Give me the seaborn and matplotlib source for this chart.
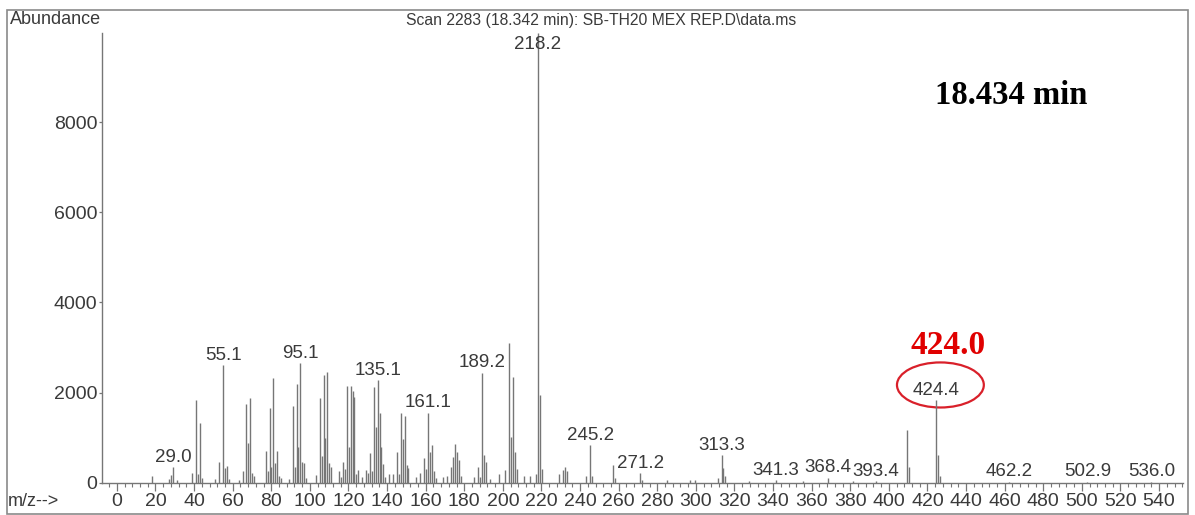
# -*- coding: utf-8 -*-

"""
    质谱图：Scan 2283 (18.342 min) 复现
"""
import matplotlib
matplotlib.use('Agg')
import matplotlib.pyplot as plt
from matplotlib.patches import Ellipse, Rectangle
from matplotlib.ticker import MultipleLocator
import pandas as pd
import seaborn as sns

# 峰位置 (m/z) 与丰度
mz = [18.0, 27.0, 28.0, 29.0, 31.0, 39.1, 41.1, 42.1, 43.1, 44.1, 51.1, 53.1,
      55.1, 56.1, 57.1, 58.1, 63.1, 65.1, 67.1, 68.1, 69.1, 70.1, 71.1, 77.1,
      78.1, 79.1, 80.1, 81.1, 82.1, 83.1, 84.1, 85.1, 89.1, 91.1, 92.1, 93.1,
      94.1, 95.1, 96.1, 97.1, 98.1, 103.1, 105.1, 106.1, 107.1, 108.1, 109.1,
      110.1, 111.1, 115.1, 116.1, 117.1, 118.1, 119.1, 120.1, 121.1, 122.1,
      123.1, 124.1, 125.1, 127.1, 129.1, 130.1, 131.1, 132.1, 133.1, 134.1,
      135.1, 136.1, 137.1, 138.1, 139.1, 141.1, 143.1, 145.1, 146.1, 147.1,
      148.1, 149.1, 150.1, 151.1, 155.1, 157.1, 159.1, 160.1, 161.1, 162.1,
      163.1, 164.1, 165.1, 169.1, 171.1, 173.1, 174.1, 175.1, 176.1, 177.1,
      178.1, 185.1, 187.1, 188.1, 189.2, 190.2, 191.2, 193.1, 198.1, 201.2,
      203.2, 204.2, 205.2, 206.2, 207.2, 211.1, 214.1, 217.2, 218.2, 219.2,
      220.2, 229.1, 231.2, 232.2, 233.2, 243.2, 245.2, 246.2, 257.2, 258.2,
      271.2, 272.2, 285.2, 297.2, 299.3, 311.3, 313.3, 314.3, 315.3, 327.3,
      341.3, 355.3, 368.4, 381.3, 393.4, 409.4, 410.4, 424.4, 425.4, 426.4,
      462.2, 502.9, 536.0]
abundance = [150, 90, 180, 340, 60, 220, 1835, 200, 1330, 100, 80, 466,
             2612, 320, 380, 80, 60, 250, 1750, 875, 1880, 220, 150, 710,
             250, 1650, 350, 2317, 430, 700, 150, 100, 80, 1700, 350, 2190,
             800, 2650, 460, 430, 100, 180, 1870, 600, 2390, 1000, 2465,
             440, 350, 250, 120, 450, 300, 2140, 800, 2150, 2040,
             1900, 200, 280, 120, 280, 220, 650, 250, 2130, 1240,
             2280, 1540, 790, 420, 120, 190, 190, 690, 200, 1555,
             960, 1480, 400, 330, 120, 210, 540, 300, 1555, 690,
             840, 250, 100, 120, 150, 355, 580, 850, 690, 500,
             150, 130, 355, 130, 2440, 615, 460, 80, 200, 280,
             3110, 1020, 2350, 690, 300, 150, 150, 200, 9980, 1950,
             300, 190, 280, 340, 250, 150, 837, 150, 393, 100,
             208, 60, 50, 70, 60, 100, 615, 330, 150, 40,
             60, 30, 110, 30, 40, 1170, 350, 1835, 615, 150,
             20, 20, 20]

# 标注的峰
labeled_mz = [29.0, 55.1, 95.1, 135.1, 161.1, 189.2, 218.2, 245.2, 271.2,
              313.3, 341.3, 368.4, 393.4, 424.4, 462.2, 502.9, 536.0]

scan_title = 'Scan 2283 (18.342 min): SB-TH20 MEX REP.D\\data.ms'
rt_text = '18.434 min'
mark_text = '424.0'
mark_mz = 424.4

text_color = '#3a3a3a'
line_color = '#767676'


def collect_data():
    """
        数据整理
    """
    return pd.DataFrame({'mz': mz, 'abundance': abundance})


def draw(data_df):
    """
        结果展示
    """
    sns.set_style('white')
    plt.rcParams['font.family'] = ['Liberation Sans', 'DejaVu Sans']

    fig = plt.figure(figsize=(11.95, 5.15), dpi=100)
    ax = fig.add_axes([102 / 1195, 1 - 482.7 / 515,
                       (1183 - 102) / 1195, (482.7 - 33) / 515])

    ax.vlines(data_df['mz'], 0, data_df['abundance'], color=line_color,
              linewidth=1.0)

    ax.set_xlim(-7.7, 552.4)
    ax.set_ylim(0, 9980)
    ax.xaxis.set_major_locator(MultipleLocator(20))
    ax.xaxis.set_minor_locator(MultipleLocator(4))
    ax.yaxis.set_major_locator(MultipleLocator(2000))
    ax.yaxis.set_major_formatter(matplotlib.ticker.FuncFormatter(
        lambda v, p: '{:d}'.format(int(v)) if v <= 8000 else ''))

    for side in ['top', 'right']:
        ax.spines[side].set_visible(False)
    for side in ['left', 'bottom']:
        ax.spines[side].set_color(line_color)
        ax.spines[side].set_linewidth(1.0)

    ax.tick_params(axis='x', which='major', direction='out', length=6,
                   width=0.9, color=line_color, labelsize=14,
                   labelcolor=text_color, pad=1.5, bottom=True)
    ax.tick_params(axis='x', which='minor', direction='out', length=3,
                   width=0.8, color=line_color, bottom=True)
    ax.tick_params(axis='y', which='major', direction='out', length=2.5,
                   width=0.9, color=line_color, labelsize=14,
                   labelcolor=text_color, pad=1, left=True)

    # 峰标注
    lookup = dict(zip(data_df['mz'], data_df['abundance']))
    for m in labeled_mz:
        h = lookup[m]
        if h >= ax.get_ylim()[1] * 0.95:
            ax.annotate('{:.1f}'.format(m), xy=(m, h), xytext=(0, -2),
                        textcoords='offset points', ha='center', va='top',
                        fontsize=13.5, color=text_color)
        else:
            ax.annotate('{:.1f}'.format(m), xy=(m, h), xytext=(0, 1),
                        textcoords='offset points', ha='center',
                        va='bottom', fontsize=13.5, color=text_color)

    # 红色椭圆与标注
    mark_h = lookup[mark_mz]
    ax.add_patch(Ellipse((mark_mz + 2.3, mark_h + 334), 45, 1000,
                         fill=False, edgecolor='#d9202a', linewidth=1.6,
                         clip_on=False))
    ax.text(mark_mz + 6.3, mark_h + 1200, mark_text, ha='center',
            va='center', fontsize=24, fontweight='bold', color='#e00000',
            family=['Liberation Serif', 'DejaVu Serif'])

    fig.text(1011 / 1195, 1 - 96 / 515, rt_text, ha='center', va='center',
             fontsize=23.5, fontweight='bold', color='black',
             family=['Liberation Serif', 'DejaVu Serif'])

    fig.text(10 / 1195, 1 - 20 / 515, 'Abundance', ha='left', va='center',
             fontsize=13, color=text_color)
    fig.text(601 / 1195, 1 - 20 / 515, scan_title, ha='center',
             va='center', fontsize=11.3, color=text_color)
    fig.text(8 / 1195, 1 - 502 / 515, 'm/z-->', ha='left', va='center',
             fontsize=13, color=text_color)

    # 外框
    fig.patches.append(Rectangle((7 / 1195, 1 / 515), (1188 - 7) / 1195,
                                 (505 - 1) / 515, transform=fig.transFigure,
                                 fill=False, edgecolor='#8a8a8a',
                                 linewidth=1.2))

    fig.savefig('out.png', dpi=100)


def main():
    data_df = collect_data()
    draw(data_df)


if __name__ == '__main__':
    main()
